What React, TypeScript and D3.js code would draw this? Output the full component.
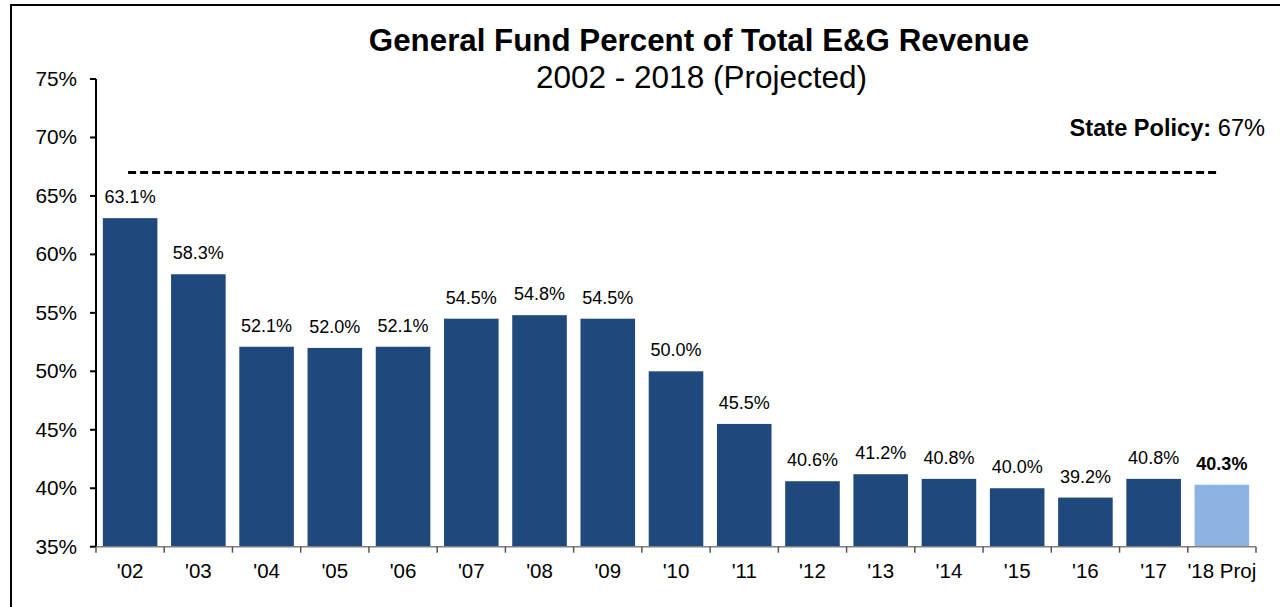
import React, { useEffect, useRef } from "react";
import * as d3 from "d3";

const categories = ["'02", "'03", "'04", "'05", "'06", "'07", "'08", "'09", "'10", "'11", "'12", "'13", "'14", "'15", "'16", "'17", "'18 Proj"];
const revenueShare = [63.1, 58.3, 52.1, 52.0, 52.1, 54.5, 54.8, 54.5, 50.0, 45.5, 40.6, 41.2, 40.8, 40.0, 39.2, 40.8, 40.3];
const projected = [false, false, false, false, false, false, false, false, false, false, false, false, false, false, false, false, true];
const yTicks = [35, 40, 45, 50, 55, 60, 65, 70, 75];
const statePolicy = 67;

const FONT = "Arial, 'Liberation Sans', sans-serif";

const App = () => {
  const svgRef = useRef<SVGSVGElement>(null);

  useEffect(() => {
    const svg = d3.select(svgRef.current);
    svg.selectAll("*").remove();

    const left = 96, right = 1256, top = 79, bottom = 546.7;

    const x = d3.scaleBand<string>().domain(categories).range([left, right]).paddingInner(0.2).paddingOuter(0.1);
    const y = d3.scaleLinear().domain([35, 75]).range([bottom, top]);

    // outer frame
    svg.append("rect")
      .attr("x", 11).attr("y", 5).attr("width", 1320).attr("height", 700)
      .attr("fill", "none").attr("stroke", "#000").attr("stroke-width", 2);

    // title
    svg.append("text")
      .attr("x", 699).attr("y", 51)
      .attr("text-anchor", "middle")
      .attr("font-family", FONT).attr("font-size", 31.3).attr("font-weight", "bold")
      .text("General Fund Percent of Total E&G Revenue");
    svg.append("text")
      .attr("x", 701.5).attr("y", 88)
      .attr("text-anchor", "middle")
      .attr("font-family", FONT).attr("font-size", 31.5)
      .text("2002 - 2018 (Projected)");

    // bars
    svg.selectAll("rect.bar")
      .data(revenueShare)
      .enter()
      .append("rect")
      .attr("class", "bar")
      .attr("x", (d, i) => x(categories[i])!)
      .attr("y", (d) => y(d))
      .attr("width", x.bandwidth())
      .attr("height", (d) => bottom - y(d))
      .attr("fill", (d, i) => (projected[i] ? "#8DB3E2" : "#1F497D"));

    // data labels
    svg.selectAll("text.val")
      .data(revenueShare)
      .enter()
      .append("text")
      .attr("class", "val")
      .attr("x", (d, i) => x(categories[i])! + x.bandwidth() / 2)
      .attr("y", (d) => y(d) - 15)
      .attr("text-anchor", "middle")
      .attr("font-family", FONT).attr("font-size", 18)
      .attr("font-weight", (d, i) => (projected[i] ? "bold" : "normal"))
      .text((d) => d.toFixed(1) + "%");

    // state policy dashed line
    const half = x.bandwidth() / 2;
    svg.append("line")
      .attr("x1", x(categories[0])! + half - 2)
      .attr("x2", x(categories[categories.length - 1])! + half - 4)
      .attr("y1", y(statePolicy)).attr("y2", y(statePolicy))
      .attr("stroke", "#000").attr("stroke-width", 3)
      .attr("stroke-dasharray", "8,4");

    const policy = svg.append("text")
      .attr("x", 1265).attr("y", 136)
      .attr("text-anchor", "end")
      .attr("font-family", FONT).attr("font-size", 23.6);
    policy.append("tspan").attr("font-weight", "bold").text("State Policy:");
    policy.append("tspan").text(" " + statePolicy + "%");

    // y axis
    const yAxis = svg.append("g");
    yAxis.append("line")
      .attr("x1", left).attr("x2", left).attr("y1", top).attr("y2", bottom)
      .attr("stroke", "#000").attr("stroke-width", 2);
    yAxis.selectAll("line.tick")
      .data(yTicks)
      .enter()
      .append("line")
      .attr("class", "tick")
      .attr("x1", left - 6).attr("x2", left)
      .attr("y1", (d) => y(d)).attr("y2", (d) => y(d))
      .attr("stroke", "#000").attr("stroke-width", 2);
    yAxis.selectAll("text")
      .data(yTicks)
      .enter()
      .append("text")
      .attr("x", 77).attr("y", (d) => y(d) + 7)
      .attr("text-anchor", "end")
      .attr("font-family", FONT).attr("font-size", 20.8)
      .text((d) => d + "%");

    // x axis
    const xAxis = svg.append("g");
    xAxis.append("line")
      .attr("x1", left).attr("x2", right).attr("y1", bottom).attr("y2", bottom)
      .attr("stroke", "#7f7f7f").attr("stroke-width", 1.5);
    const bounds = categories.map((c) => x(c)! - (x.step() - x.bandwidth()) / 2).concat([right]);
    xAxis.selectAll("line.tick")
      .data(bounds)
      .enter()
      .append("line")
      .attr("class", "tick")
      .attr("x1", (d) => d).attr("x2", (d) => d)
      .attr("y1", bottom).attr("y2", bottom + 6)
      .attr("stroke", "#555").attr("stroke-width", 1.5);
    xAxis.selectAll("text")
      .data(categories)
      .enter()
      .append("text")
      .attr("x", (d) => x(d)! + half)
      .attr("y", 578)
      .attr("text-anchor", "middle")
      .attr("font-family", FONT).attr("font-size", 20.5)
      .text((d) => d);
  }, []);

  return (
    <svg
      ref={svgRef}
      width={1280}
      height={607}
      style={{ position: "absolute", left: 0, top: 0, background: "#fff" }}
    ></svg>
  );
};

export default App;
